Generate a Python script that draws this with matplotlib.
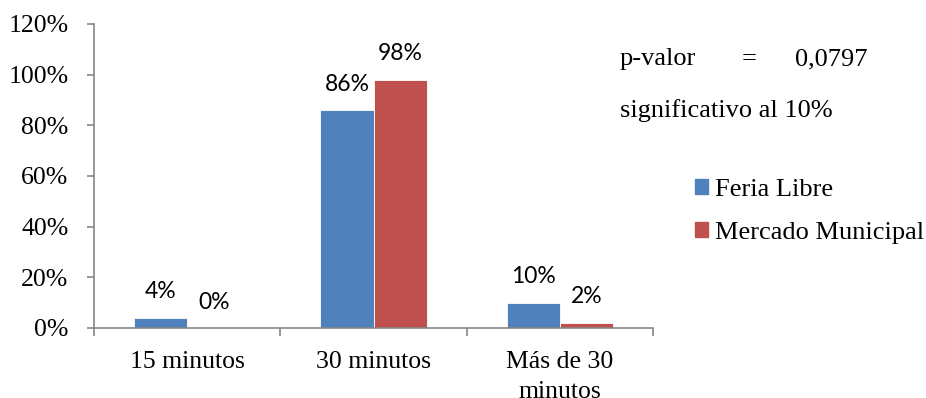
import matplotlib.pyplot as plt
import numpy as np
from matplotlib.patches import Patch

## Data: share of buyers by travel time, per market type
categories = ['15 minutos', '30 minutos', 'Más de 30\nminutos']
feria_libre = [4, 86, 10]
mercado_municipal = [0, 98, 2]
series_names = ['Feria Libre', 'Mercado Municipal']
yticks = [0, 20, 40, 60, 80, 100, 120]

blue = '#4F81BD'
red = '#C0504D'
axis_grey = '#868686'
serif = 'Liberation Serif'
sans = 'Lato'

fig = plt.figure(figsize=(9.26, 3.98), dpi=100)
ax = fig.add_axes([94 / 926, 1 - 328 / 398, (653 - 94) / 926, (328 - 24) / 398])

x = np.arange(len(categories))
w = 1 / 3.5
bars1 = ax.bar(x - w / 2, feria_libre, w, color=blue, edgecolor='white', linewidth=0.6)
bars2 = ax.bar(x + w / 2, mercado_municipal, w, color=red, edgecolor='white', linewidth=0.6)

# value labels over each bar
for bars, vals in [(bars1, feria_libre), (bars2, mercado_municipal)]:
    for b, v in zip(bars, vals):
        ax.annotate(f'{v}%', (b.get_x() + b.get_width() / 2, v),
                    xytext=(0, 14), textcoords='offset points',
                    ha='center', va='baseline', fontsize=16.5, family=sans)

ax.set_xlim(-0.5, 2.5)
ax.set_ylim(0, 120)
ax.set_yticks(yticks)
ax.set_yticklabels([f'{t}%' for t in yticks], family=serif, fontsize=18.5)

# category ticks sit between groups, labels centred under each group
ax.set_xticks([-0.5, 0.5, 1.5, 2.5])
ax.set_xticklabels([])
ax.set_xticks(x, minor=True)
ax.set_xticklabels(categories, minor=True, family=serif, fontsize=18.5, linespacing=1.45)
ax.tick_params(axis='x', which='minor', length=0, pad=16.5)
ax.tick_params(axis='x', which='major', length=5.5, width=1.2, color=axis_grey, direction='out')
ax.tick_params(axis='y', length=5, width=1.2, color=axis_grey, direction='out', pad=13.5)

for s in ['top', 'right']:
    ax.spines[s].set_visible(False)
for s in ['left', 'bottom']:
    ax.spines[s].set_color(axis_grey)
    ax.spines[s].set_linewidth(1.2)

# test result note
fig.text(620 / 926, 1 - 65 / 398, 'p-valor', family=serif, fontsize=19, va='baseline')
fig.text(742 / 926, 1 - 65 / 398, '=', family=serif, fontsize=19, va='baseline')
fig.text(795 / 926, 1 - 65 / 398, '0,0797', family=serif, fontsize=19, va='baseline')
fig.text(620 / 926, 1 - 117 / 398, 'significativo al 10%', family=serif, fontsize=19, va='baseline')

handles = [Patch(color=blue), Patch(color=red)]
fig.legend(handles, series_names, loc='upper left', bbox_to_anchor=(695 / 926, 1 - 179 / 398),
           frameon=False, prop={'family': serif, 'size': 19},
           handlelength=0.5, handleheight=0.5, handletextpad=0.27, labelspacing=0.78,
           borderpad=0, borderaxespad=0)

fig.savefig('out.png', dpi=100)
